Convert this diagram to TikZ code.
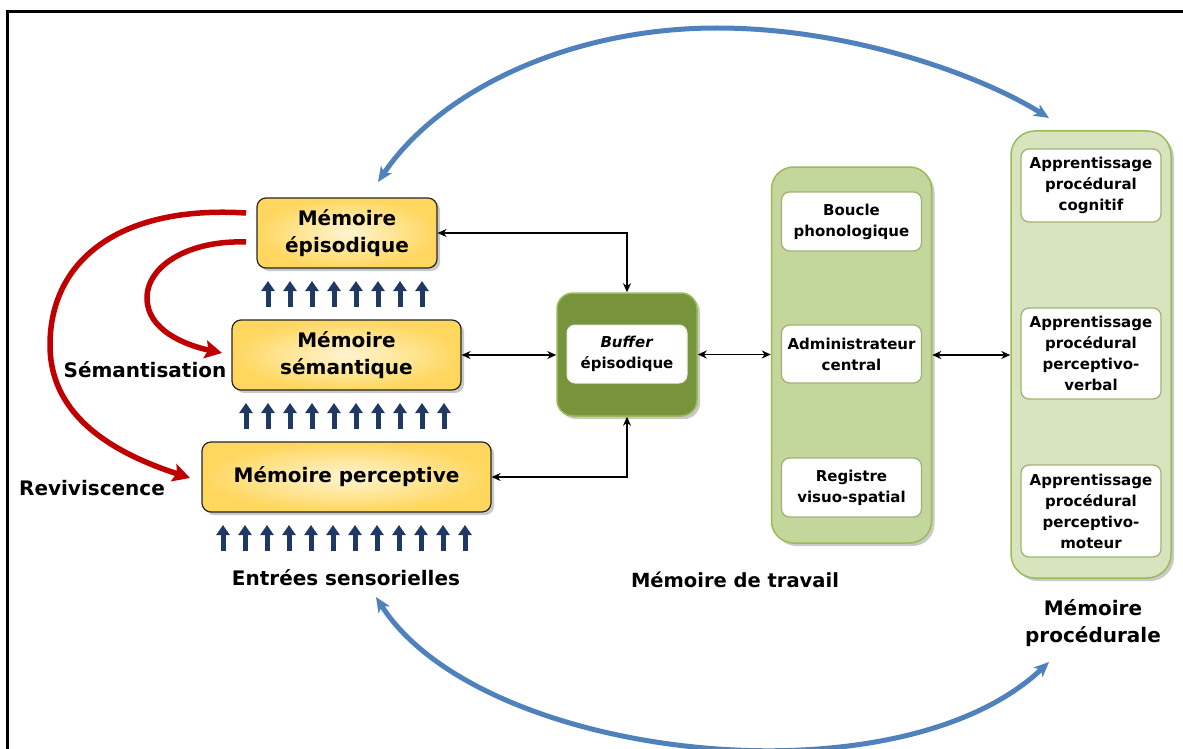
\documentclass[tikz,border=0pt]{standalone}
\usepackage{fontspec}
\setmainfont{DejaVu Sans}
\usetikzlibrary{arrows.meta,shadows,calc}
\definecolor{yel}{HTML}{FFD75E}
\definecolor{yelc}{HTML}{FFF4D2}
\definecolor{navy}{HTML}{1F3864}
\definecolor{redarr}{HTML}{C00000}
\definecolor{bluearr}{HTML}{4F81BD}
\definecolor{olive}{HTML}{77933C}
\definecolor{wmfill}{HTML}{C3D69B}
\definecolor{pmfill}{HTML}{D7E4BD}
\definecolor{gborder}{HTML}{9BBB59}
\begin{document}
\begin{tikzpicture}[x=1pt,y=-1pt,
  bigfont/.style={font=\fontsize{20}{27}\selectfont\bfseries},
  smallfont/.style={font=\fontsize{15}{21}\selectfont\bfseries},
  shad/.style={drop shadow={shadow xshift=3pt,shadow yshift=-3pt,opacity=0.35,fill=black!60}},
  membox/.style={draw=black!85, line width=1.2pt, rounded corners=9pt,
    inner color=yelc, outer color=yel, shad, align=center, bigfont, inner sep=0pt},
  panel/.style={draw=gborder, line width=1.5pt, rounded corners=22pt, shad, inner sep=0pt},
  inbox/.style={draw=olive!70, line width=1.3pt, fill=white, rounded corners=8pt,
    align=center, smallfont, inner sep=0pt, minimum width=140pt},
  label/.style={bigfont, align=center},
  conn/.style={line width=1.5pt, {Stealth[length=9pt,width=8pt]}-{Stealth[length=9pt,width=8pt]}},
  redarrow/.style={redarr, line width=5.5pt, -{Stealth[length=17pt,width=18pt,inset=3pt]}},
  bluearrow/.style={bluearr, line width=5pt, {Stealth[length=15pt,width=13pt,inset=4pt]}-{Stealth[length=15pt,width=13pt,inset=4pt]}},
  uparrow/.style={navy, line width=5pt, -{Triangle[length=10pt,width=13pt]}}
]
\useasboundingbox (0,0) rectangle (1183,749);
\fill[white] (0,0) rectangle (1183,749);
% frame
\draw[line width=3pt] (7,760) -- (7,12) -- (1195,12);

% memory boxes
\node[membox, minimum width=180pt, minimum height=70pt] (epi) at (347,233) {Mémoire\\épisodique};
\node[membox, minimum width=229pt, minimum height=70pt] (sem) at (346.5,355) {Mémoire\\sémantique};
\node[membox, minimum width=289pt, minimum height=70pt] (per) at (346.5,477) {Mémoire perceptive};

% up arrows
\foreach \i in {0,...,7} \draw[uparrow] (268+22*\i,307) -- (268+22*\i,281);
\foreach \i in {0,...,9} \draw[uparrow] (246+22*\i,429) -- (246+22*\i,403);
\foreach \i in {0,...,11} \draw[uparrow] (223+22*\i,551) -- (223+22*\i,525);

\node[label] (ent) at (346,578) {Entrées sensorielles};
\node[label] (sman) at (145,370) {Sémantisation};
\node[label] (rev) at (92,488) {Reviviscence};

% red arrows
\coordinate (r1s) at (246,213);
\coordinate (r1m) at (50,345);
\coordinate (r1e) at (190,478);
\coordinate (r2s) at (246,242);
\coordinate (r2m) at (147,298);
\coordinate (r2e) at (222,353);
\draw[redarrow] (r1s) .. controls (120,205) and (50,260) .. (r1m)
                      .. controls (50,420) and (120,455) .. (r1e);
\draw[redarrow] (r2s) .. controls (190,240) and (147,265) .. (r2m)
                      .. controls (147,330) and (185,345) .. (r2e);

% buffer
\node[draw=gborder, line width=1.5pt, fill=olive, rounded corners=16pt, shad,
  minimum width=140pt, minimum height=123pt, inner sep=0pt] (buf) at (627,354.5) {};
\node[draw=white!85!olive, line width=1pt, fill=white, rounded corners=8pt, align=center,
  smallfont, minimum width=120pt, minimum height=58pt, inner sep=0pt] (bufin) at (627,354)
  {\textit{Buffer}\\épisodique};

% working memory
\node[panel, fill=wmfill, minimum width=160pt, minimum height=376pt] (wm) at (851.5,355) {};
\node[inbox, minimum height=59pt] (boucle) at (851.5,221.5) {Boucle\\phonologique};
\node[inbox, minimum height=58pt] (admin) at (851.5,354) {Administrateur\\central};
\node[inbox, minimum height=59pt] (reg) at (851.5,487.5) {Registre\\visuo-spatial};
\node[label, font=\fontsize{19.5}{26}\selectfont\bfseries] (wmlab) at (735,580) {Mémoire de travail};

% procedural memory
\node[panel, fill=pmfill, rounded corners=24pt, minimum width=160pt, minimum height=447pt] (pm) at (1091,354.5) {};
\node[inbox, minimum height=73pt] (p1) at (1091,185.5) {Apprentissage\\procédural\\cognitif};
\node[inbox, minimum height=91pt] (p2) at (1091,353.5) {Apprentissage\\procédural\\perceptivo-\\verbal};
\node[inbox, minimum height=92pt] (p3) at (1091,511) {Apprentissage\\procédural\\perceptivo-\\moteur};
\node[label] (pmlab) at (1093,623) {Mémoire\\procédurale};

% connectors
\draw[conn] (epi.east) -| (buf.north);
\draw[conn] (sem.east) -- (sem.east -| buf.west);
\draw[conn] (per.east) -| (buf.south);
\draw[conn] (buf.east) -- (buf.east -| wm.west);
\draw[conn] (wm.east) -- (wm.east -| pm.west);

% blue arrows
\coordinate (bt1) at (378,182);
\coordinate (btm) at (717,28);
\coordinate (bt2) at (1049,118);
\coordinate (bb1) at (376,597);
\coordinate (bb2) at (1049,662);
\draw[bluearrow] (bt1) .. controls (440,90) and (570,28) .. (btm)
                       .. controls (850,28) and (980,75) .. (bt2);
\draw[bluearrow] (bb1) .. controls (480,760) and (896,807) .. (bb2);
\end{tikzpicture}
\end{document}
